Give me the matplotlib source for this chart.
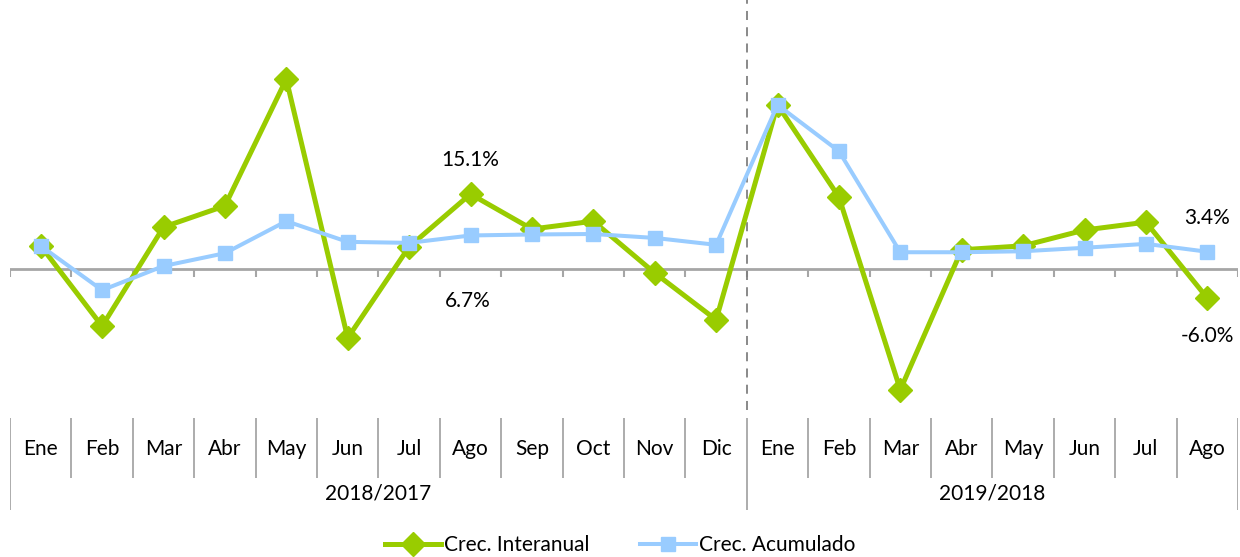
import matplotlib.pyplot as plt
from matplotlib.lines import Line2D

plt.rcParams["font.family"] = ["Lato", "DejaVu Sans"]

months = ["Ene", "Feb", "Mar", "Abr", "May", "Jun", "Jul", "Ago", "Sep", "Oct", "Nov", "Dic",
          "Ene", "Feb", "Mar", "Abr", "May", "Jun", "Jul", "Ago"]
periods = ["2018/2017", "2019/2018"]
period_len = [12, 8]

# growth rates, %
interanual = [4.6, -11.7, 8.4, 12.7, 38.4, -14.1, 4.4, 15.1, 8.0, 9.6, -0.9, -10.4,
              33.2, 14.5, -24.6, 3.8, 4.6, 7.8, 9.4, -6.0]
acumulado = [4.6, -4.4, 0.5, 3.1, 9.6, 5.4, 5.2, 6.7, 6.9, 7.0, 6.2, 4.8,
             33.2, 23.8, 3.3, 3.3, 3.5, 4.2, 5.0, 3.4]

GREEN = "#99CC00"
BLUE = "#99CCFF"
GRID = "#A6A6A6"

W, H = 1240, 557
fig = plt.figure(figsize=(W / 100, H / 100), dpi=100)

left, right = 10, 1238
# main plot area, pixel rows 0..410
ax = fig.add_axes([left / W, (H - 410) / H, (right - left) / W, 410 / H])
n = len(months)
x = list(range(n))
ax.set_xlim(-0.5, n - 0.5)
px_per_pct = 4.93
zero_px = 268.5
ax.set_ylim(-(410 - zero_px) / px_per_pct, zero_px / px_per_pct)
ax.axis("off")

ax.axhline(0, color=GRID, lw=2, zorder=1)
tick_len = 8 / px_per_pct
ax.vlines([i - 0.5 for i in range(n + 1)], -tick_len, 0, color=GRID, lw=1.5, zorder=1)
ax.axvline(period_len[0] - 0.5, color="#808080", lw=1.3, ls=(0, (5, 4)), zorder=1,
           clip_on=False)

ax.plot(x, interanual, color=GREEN, lw=3.6, marker="D", ms=12, zorder=3)
ax.plot(x, acumulado, color=BLUE, lw=2.9, marker="s", ms=10, zorder=4)

lab_kw = dict(textcoords="offset pixels", ha="center", va="center", fontsize=15)
i_ago18 = 7
ax.annotate(f"{interanual[i_ago18]:.1f}%", (i_ago18, interanual[i_ago18]), xytext=(0, 34), **lab_kw)
ax.annotate(f"{acumulado[i_ago18]:.1f}%", (i_ago18, acumulado[i_ago18]), xytext=(-3, -66), **lab_kw)
ax.annotate(f"{acumulado[-1]:.1f}%", (n - 1, acumulado[-1]), xytext=(0, 34), **lab_kw)
ax.annotate(f"{interanual[-1]:.1f}%", (n - 1, interanual[-1]), xytext=(0, -38), **lab_kw)

# category table under the chart, y in pixel rows
tab = fig.add_axes([left / W, (H - 515) / H, (right - left) / W, 105 / H])
tab.set_xlim(-0.5, n - 0.5)
tab.set_ylim(515, 410)
tab.axis("off")
bounds = [0, period_len[0], n]
for i in range(n + 1):
    bottom = 510 if i in bounds else 478
    tab.vlines(i - 0.5, 418, bottom, color=GRID, lw=1.3)
for i, m in enumerate(months):
    tab.text(i, 449, m, ha="center", va="center", fontsize=15)
start = 0
for p, ln in zip(periods, period_len):
    tab.text(start + ln / 2 - 0.5, 494, p, ha="center", va="center", fontsize=15)
    start += ln

handles = [
    Line2D([], [], color=GREEN, lw=3.6, marker="D", ms=12),
    Line2D([], [], color=BLUE, lw=2.9, marker="s", ms=10),
]
fig.legend(handles, ["Crec. Interanual", "Crec. Acumulado"], loc="center",
           bbox_to_anchor=(0.5, 12 / H), ncol=2, frameon=False, fontsize=15,
           handlelength=2.7, handletextpad=0.15, columnspacing=2.4,
           borderpad=0, borderaxespad=0)

fig.savefig("out.png", dpi=100)
